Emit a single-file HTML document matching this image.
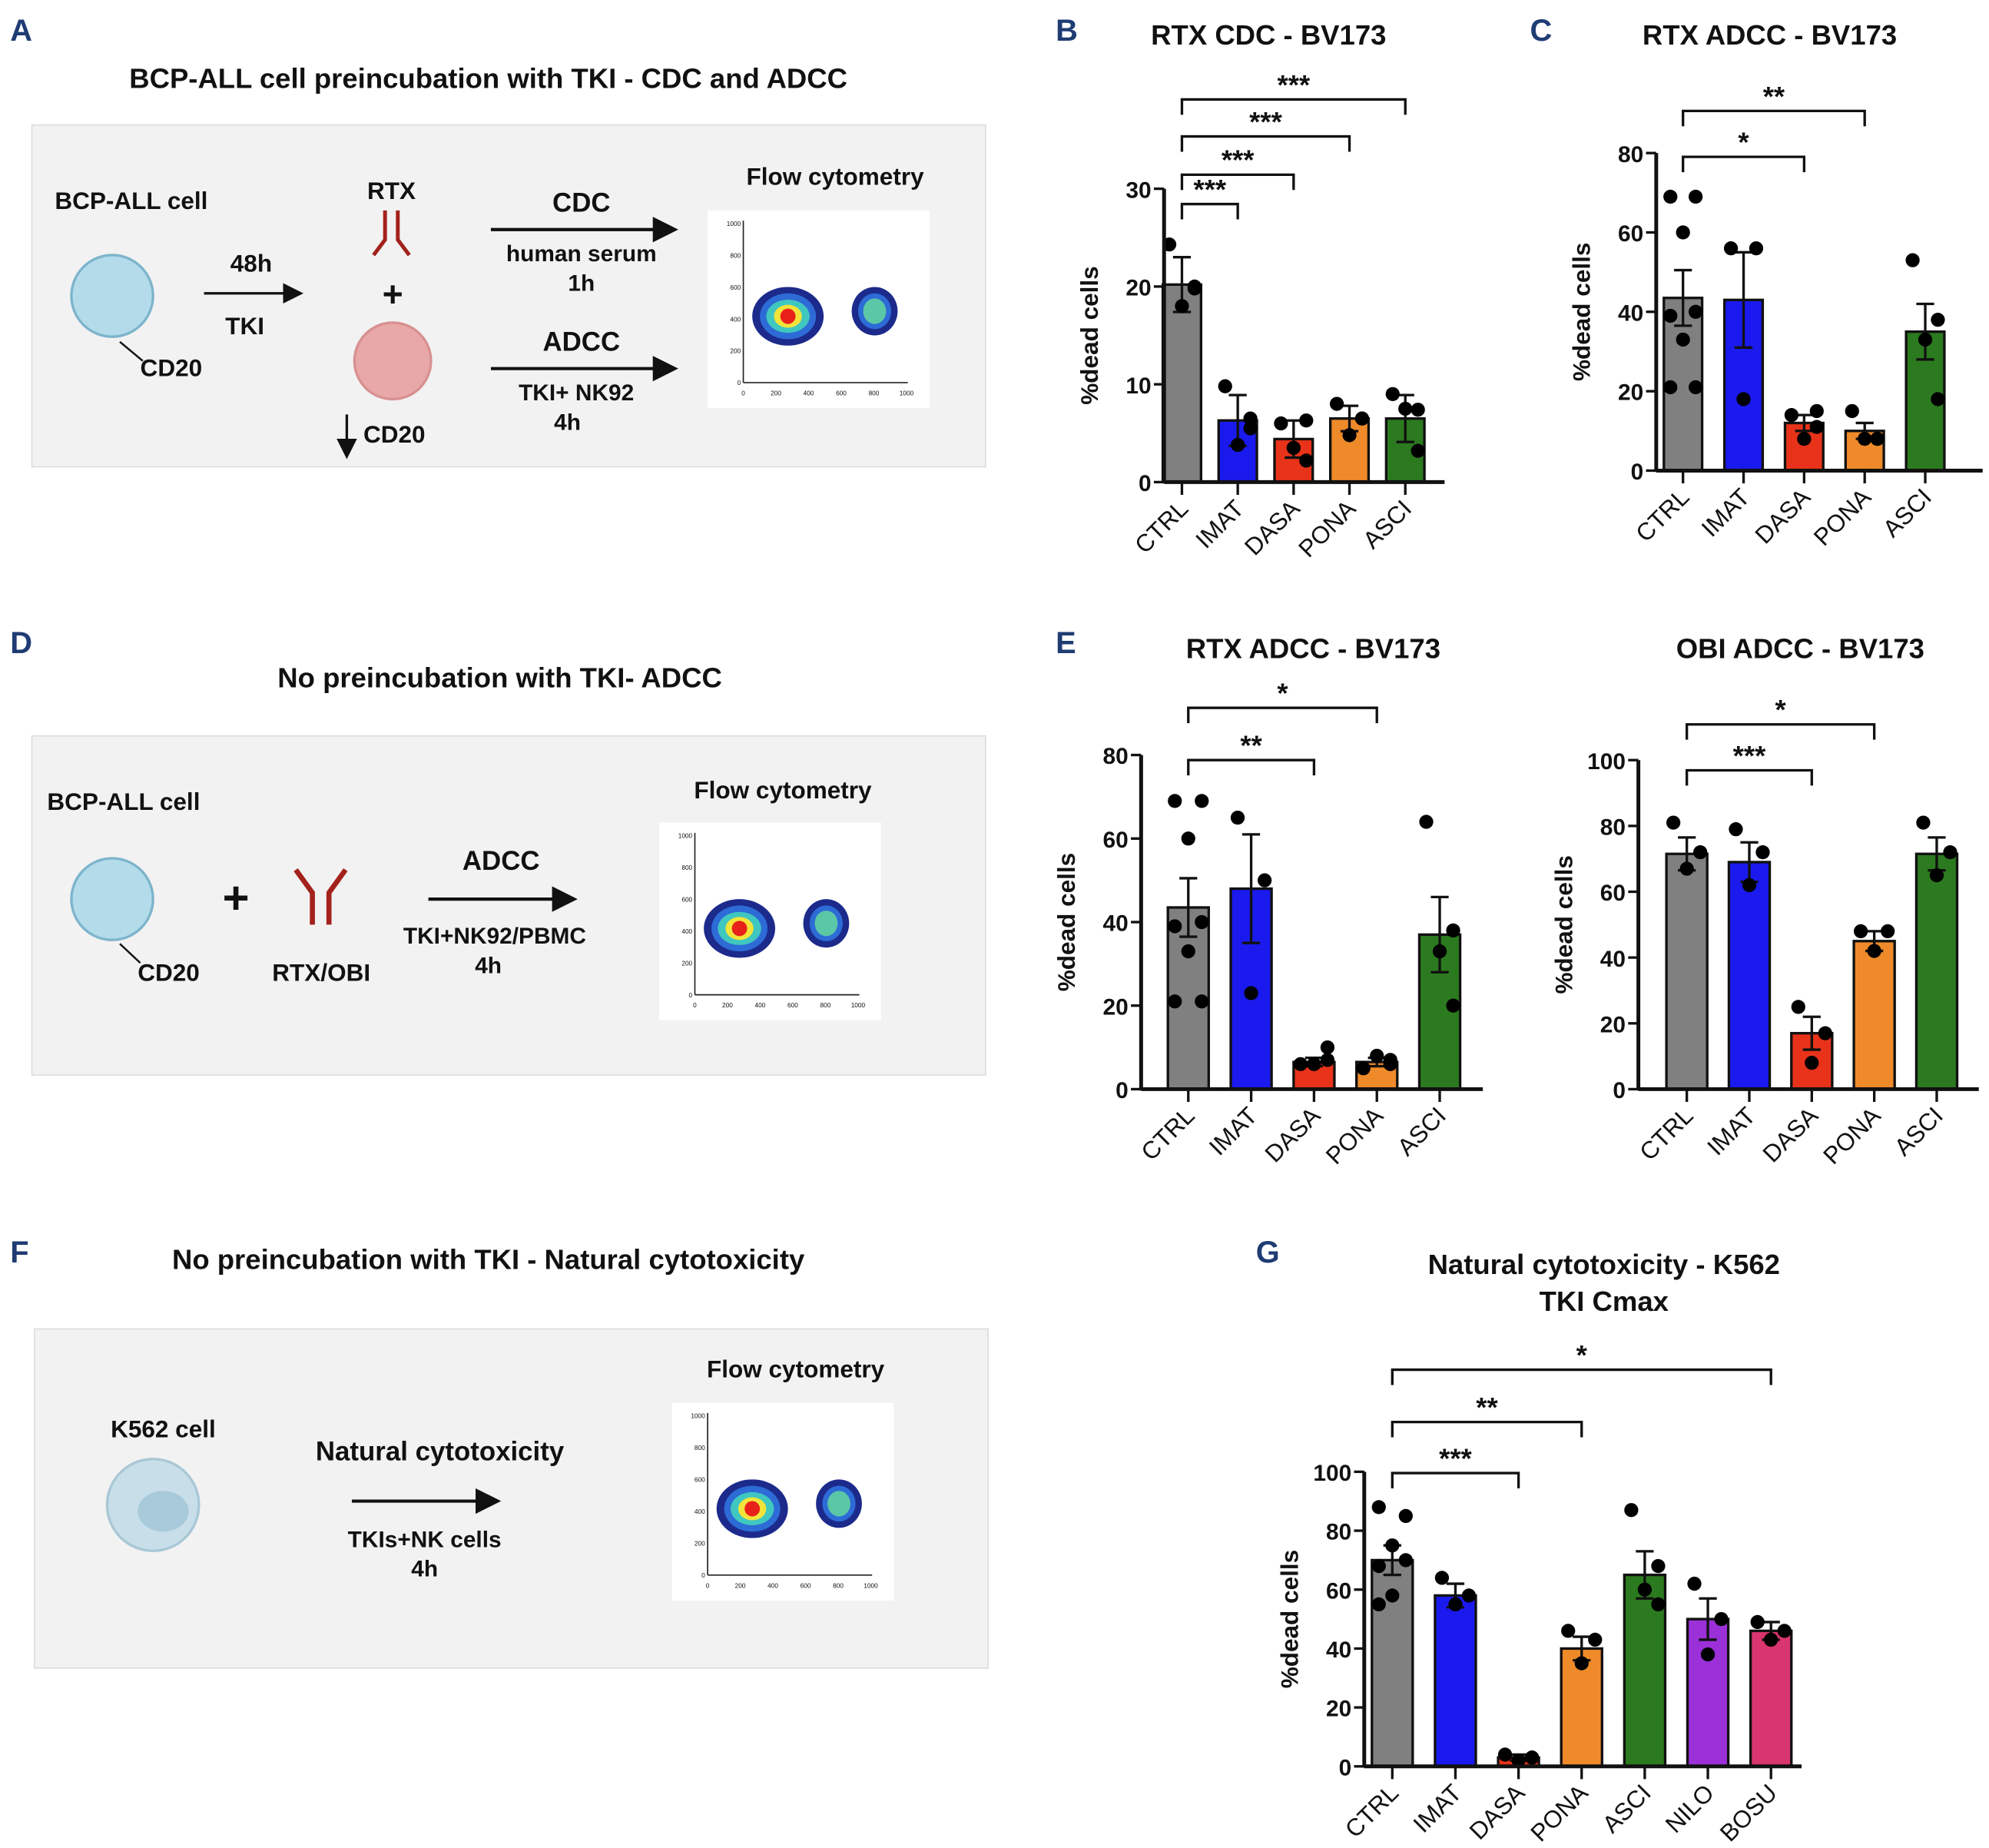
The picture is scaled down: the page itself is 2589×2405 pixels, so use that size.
<!DOCTYPE html>
<html><head><meta charset="utf-8"><style>
html,body{margin:0;padding:0;background:#fff}
svg{display:block}
text{font-family:"Liberation Sans",sans-serif}
</style></head><body>
<svg id="root" xmlns="http://www.w3.org/2000/svg" width="2589" height="2405" viewBox="0 0 1560 1449" preserveAspectRatio="none">
<defs>
<marker id="ah" markerWidth="8" markerHeight="8" refX="6" refY="4" orient="auto"><path d="M0,0 L8,4 L0,8 z" fill="#111"/></marker>
</defs>
<g font-weight="bold" font-size="24" fill="#1f3c73">
<text x="8" y="32">A</text><text x="828" y="32">B</text><text x="1200" y="32">C</text>
<text x="8" y="512">D</text><text x="828" y="512">E</text><text x="8" y="990">F</text><text x="985" y="990">G</text>
</g>
<g font-weight="bold" fill="#111">
<text x="383" y="69" font-size="22" text-anchor="middle">BCP-ALL cell preincubation with TKI - CDC and ADCC</text>
<rect x="25" y="98" width="748" height="268" fill="#f2f2f2" stroke="#ddd"/>
<text x="43" y="164" font-size="19">BCP-ALL cell</text>
<circle cx="88" cy="232" r="32" fill="#b3dbea" stroke="#7db4cc" stroke-width="2"/>
<line x1="94" y1="268" x2="112" y2="283" stroke="#111" stroke-width="1.5"/>
<text x="110" y="295" font-size="19">CD20</text>
<line x1="160" y1="230" x2="234" y2="230" stroke="#111" stroke-width="2" marker-end="url(#ah)"/>
<text x="197" y="213" font-size="19" text-anchor="middle">48h</text>
<text x="192" y="262" font-size="19" text-anchor="middle">TKI</text>
<text x="307" y="156" font-size="19" text-anchor="middle">RTX</text>
<path d="M302,165 L302,188 L293,200 M312,165 L312,188 L321,200" stroke="#a3221c" stroke-width="3" fill="none"/>
<text x="308" y="240" font-size="28" text-anchor="middle">+</text>
<circle cx="308" cy="283" r="30" fill="#e8a8a8" stroke="#d89090" stroke-width="2"/>
<line x1="272" y1="325" x2="272" y2="356" stroke="#111" stroke-width="2" marker-end="url(#ah)"/>
<text x="285" y="347" font-size="19">CD20</text>
<text x="456" y="166" font-size="21" text-anchor="middle">CDC</text>
<line x1="385" y1="180" x2="527" y2="180" stroke="#111" stroke-width="2.5" marker-end="url(#ah)"/>
<text x="456" y="205" font-size="18" text-anchor="middle">human serum</text>
<text x="456" y="228" font-size="18" text-anchor="middle">1h</text>
<text x="456" y="275" font-size="21" text-anchor="middle">ADCC</text>
<line x1="385" y1="289" x2="527" y2="289" stroke="#111" stroke-width="2.5" marker-end="url(#ah)"/>
<text x="452" y="314" font-size="18" text-anchor="middle">TKI+ NK92</text>
<text x="445" y="337" font-size="18" text-anchor="middle">4h</text>
<text x="655" y="145" font-size="19" text-anchor="middle">Flow cytometry</text>
<g id="flowA" transform="translate(555,165)"></g>
</g>
<g font-weight="bold" fill="#111">
<text x="392" y="539" font-size="22" text-anchor="middle">No preincubation with TKI- ADCC</text>
<rect x="25" y="577" width="748" height="266" fill="#f2f2f2" stroke="#ddd"/>
<text x="37" y="635" font-size="19">BCP-ALL cell</text>
<circle cx="88" cy="705" r="32" fill="#b3dbea" stroke="#7db4cc" stroke-width="2"/>
<line x1="94" y1="740" x2="110" y2="755" stroke="#111" stroke-width="1.5"/>
<text x="108" y="769" font-size="19">CD20</text>
<text x="185" y="716" font-size="36" text-anchor="middle">+</text>
<path d="M245,725 L245,700 L232,682 M258,725 L258,700 L271,682" stroke="#a3221c" stroke-width="4" fill="none"/>
<text x="252" y="769" font-size="19" text-anchor="middle">RTX/OBI</text>
<text x="393" y="682" font-size="21" text-anchor="middle">ADCC</text>
<line x1="336" y1="705" x2="448" y2="705" stroke="#111" stroke-width="2.5" marker-end="url(#ah)"/>
<text x="388" y="740" font-size="18" text-anchor="middle">TKI+NK92/PBMC</text>
<text x="383" y="763" font-size="18" text-anchor="middle">4h</text>
<text x="614" y="626" font-size="19" text-anchor="middle">Flow cytometry</text>
<g id="flowD" transform="translate(517,645)"></g>
</g>
<g font-weight="bold" fill="#111">
<text x="383" y="995" font-size="22" text-anchor="middle">No preincubation with TKI - Natural cytotoxicity</text>
<rect x="27" y="1042" width="748" height="266" fill="#f2f2f2" stroke="#ddd"/>
<text x="128" y="1127" font-size="19" text-anchor="middle">K562 cell</text>
<circle cx="120" cy="1180" r="36" fill="#c8dfea" stroke="#a9c7d6" stroke-width="2"/>
<ellipse cx="128" cy="1185" rx="20" ry="16" fill="#a9cadb"/>
<text x="345" y="1145" font-size="21" text-anchor="middle">Natural cytotoxicity</text>
<line x1="276" y1="1177" x2="388" y2="1177" stroke="#111" stroke-width="2.5" marker-end="url(#ah)"/>
<text x="333" y="1213" font-size="18" text-anchor="middle">TKIs+NK cells</text>
<text x="333" y="1236" font-size="18" text-anchor="middle">4h</text>
<text x="624" y="1080" font-size="19" text-anchor="middle">Flow cytometry</text>
<g id="flowF" transform="translate(527,1100)"></g>
</g>
<g id="charts"></g>
</svg>
<script>
const NS='http://www.w3.org/2000/svg';
function mk(p,tag,at,txt){const e=document.createElementNS(NS,tag);for(const k in at)e.setAttribute(k,at[k]);if(txt!==undefined)e.textContent=txt;p.appendChild(e);return e;}
// flow plots
['flowA','flowD','flowF'].forEach(id=>{
 const g=document.getElementById(id);
 mk(g,'rect',{x:0,y:0,width:174,height:155,fill:'#fff'});
 mk(g,'line',{x1:28,y1:8,x2:28,y2:135,stroke:'#222','stroke-width':1});
 mk(g,'line',{x1:28,y1:135,x2:157,y2:135,stroke:'#222','stroke-width':1});
 ['0','200','400','600','800','1000'].forEach((t,i)=>{
  mk(g,'text',{x:26,y:137-i*25,'font-size':5,'text-anchor':'end','font-weight':'normal'},t);
  mk(g,'text',{x:28+i*25.6,y:145,'font-size':5,'text-anchor':'middle','font-weight':'normal'},t);
 });
 [['#1c2a8c',28,23],['#2d6bd6',22,18],['#3fc7c0',17,13],['#f2e43a',11,9],['#e8221a',6,6]].forEach(c=>mk(g,'ellipse',{cx:63,cy:83,rx:c[1],ry:c[2],fill:c[0]}));
 [['#1c2a8c',18,19],['#2d6bd6',13,14],['#5cc7a6',9,10]].forEach(c=>mk(g,'ellipse',{cx:131,cy:79,rx:c[1],ry:c[2],fill:c[0]}));
});

// ===== chart data =====
const catsB=['CTRL','IMAT','DASA','PONA','ASCI'];
const meanB=[20.2,6.3,4.4,6.5,6.5];
const semB=[2.8,2.6,1.9,1.3,2.4];
const ptsB=[[24.3,20,18,19.8],[9.8,6.5,3.8,5.5],[6,6.3,3.5,2.2],[8,6.5,4.8,6.5],[9,7.4,7.5,3.2]];
const ticksB=[0,10,20,30];
const sigB=[[0,1,'***'],[0,2,'***'],[0,3,'***'],[0,4,'***']];

const catsC=['CTRL','IMAT','DASA','PONA','ASCI'];
const meanC=[43.5,43,12,10,35];
const semC=[7,12,2,2,7];
const ptsC=[[69,69,60,40,39,33,21,21],[56,56,18],[14,15,8,11],[15,8,8,8],[53,38,33,18]];
const ticksC=[0,20,40,60,80];
const sigC=[[0,2,'*'],[0,3,'**']];

const catsE1=['CTRL','IMAT','DASA','PONA','ASCI'];
const meanE1=[43.5,48,6.5,6.5,37];
const semE1=[7,13,1,1,9];
const ptsE1=[[69,69,60,40,39,33,21,21],[65,50,23],[6,7,6,10],[5,6,8,7],[64,38,33,20]];
const ticksE1=[0,20,40,60,80];
const sigE1=[[0,2,'**'],[0,3,'*']];

const catsE2=['CTRL','IMAT','DASA','PONA','ASCI'];
const meanE2=[71.5,69,17,45,71.5];
const semE2=[5,6,5,3,5];
const ptsE2=[[81,72,67],[79,72,62],[25,17,8],[48,48,42],[81,72,65]];
const ticksE2=[0,20,40,60,80,100];
const sigE2=[[0,2,'***'],[0,3,'*']];

const catsG=['CTRL','IMAT','DASA','PONA','ASCI','NILO','BOSU'];
const meanG=[70,58,3,40,65,50,46];
const semG=[5,4,1,4,8,7,3];
const ptsG=[[88,85,75,70,68,58,55],[64,58,55],[4,3,2,3],[46,43,35],[87,68,60,55],[62,50,38],[49,46,43]];
const ticksG=[0,20,40,60,80,100];
const sigG=[[0,2,'***'],[0,3,'**'],[0,6,'*']];

const colors=['#808080','#1a1aef','#e8331a','#ef8a2a','#2c7a1f','#9b30d9','#d9356f'];

function chart(name,ax,y0,yTop,vTop,x0c,step,xEnd,bw,cats,mean,sem,pts,ticks,sig,sigY,title){
 const root=document.getElementById('charts');
 const g=mk(root,'g',{});
 
 
 const y=v=>y0-(v/vTop)*(y0-yTop);
 const x=i=>x0c+i*step;
 title.forEach((t,k)=>{const e=mk(g,'text',{x:t[1],y:t[2],'font-size':22,'font-weight':'bold','text-anchor':'middle',fill:'#111'},t[0]);});
 cats.forEach((c,i)=>{
  const b=mk(g,'rect',{x:x(i)-bw/2,y:y(mean[i]),width:bw,height:y0-y(mean[i]),fill:colors[i],stroke:'#111','stroke-width':2});
  
  
  const e=mk(g,'path',{d:`M${x(i)},${y(mean[i]-sem[i])}V${y(mean[i]+sem[i])}M${x(i)-7},${y(mean[i]+sem[i])}H${x(i)+7}M${x(i)-7},${y(mean[i]-sem[i])}H${x(i)+7}`,stroke:'#111','stroke-width':2,fill:'none'});
  
  
  const n=pts[i].length;
  pts[i].forEach((v,k)=>{
   const off=n===1?0:(k%2===0?-1:1)*(k%3===2?0:bw*0.33);
   const d=mk(g,'circle',{cx:x(i)+off,cy:y(v),r:5.5,fill:'#000'});
   
   
  });
  mk(g,'line',{x1:x(i),y1:y0,x2:x(i),y2:y0+10,stroke:'#111','stroke-width':2});
  const t=mk(g,'text',{x:x(i)+6,y:y0+22,'font-size':19,'text-anchor':'end',fill:'#111',transform:`rotate(-45 ${x(i)+6} ${y0+22})`},c);
  
  
 });
 mk(g,'line',{x1:ax,y1:y0,x2:xEnd,y2:y0,stroke:'#111','stroke-width':3});
 mk(g,'line',{x1:ax,y1:y0+1,x2:ax,y2:yTop,stroke:'#111','stroke-width':3});
 ticks.forEach(t=>{
  mk(g,'line',{x1:ax-8,y1:y(t),x2:ax,y2:y(t),stroke:'#111','stroke-width':2});
  const tl=mk(g,'text',{x:ax-10,y:y(t)+7,'font-size':18,'font-weight':'bold','text-anchor':'end',fill:'#111'},t);
  
  
 });
 const yl=mk(g,'text',{x:0,y:0,'font-size':19,'font-weight':'bold','text-anchor':'middle',fill:'#111',transform:`translate(${ax-52},${(y0+yTop)/2}) rotate(-90)`},'%dead cells');
 
 
 sig.forEach((s,k)=>{
  const by=sigY[k];
  const p=mk(g,'path',{d:`M${x(s[0])},${by+12}V${by}H${x(s[1])}V${by+12}`,stroke:'#111','stroke-width':2,fill:'none'});
  
  
  const st=mk(g,'text',{x:(x(s[0])+x(s[1]))/2,y:by-4,'font-size':22,'font-weight':'bold','text-anchor':'middle',fill:'#111'},s[2]);
  
  
 });
}
chart('chart-b-rtx-cdc',913,378,148,30,927,43.8,1133,30,catsB,meanB,semB,ptsB,ticksB,sigB,[160,137,107,78],[['RTX CDC - BV173',995,35]]);
chart('chart-c-rtx-adcc',1299,369,120,80,1320,47.5,1555,30,catsC,meanC,semC,ptsC,ticksC,sigC,[123,87],[['RTX ADCC - BV173',1388,35]]);
chart('chart-e-rtx-adcc',895,854,592,80,932,49.3,1163,32,catsE1,meanE1,semE1,ptsE1,ticksE1,sigE1,[596,555],[['RTX ADCC - BV173',1030,516]]);
chart('chart-e-obi-adcc',1285,854,596,100,1323,49,1552,32,catsE2,meanE2,semE2,ptsE2,ticksE2,sigE2,[604,568],[['OBI ADCC - BV173',1412,516]]);
chart('chart-g-natural-cytotoxicity',1070,1385,1154,100,1092,49.5,1413,32,catsG,meanG,semG,ptsG,ticksG,sigG,[1155,1115,1074],[['Natural cytotoxicity - K562',1258,999],['TKI  Cmax',1258,1028]]);
</script>
</body></html>
